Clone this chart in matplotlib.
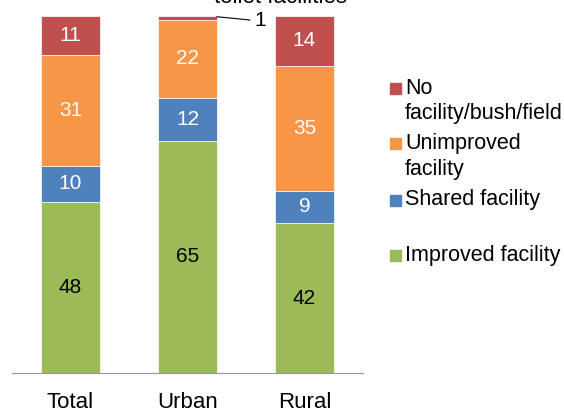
import numpy as np
import matplotlib.pyplot as plt
from matplotlib.patches import Rectangle

plt.rcParams['font.family'] = ['Liberation Sans', 'DejaVu Sans']

categories = ["Total", "Urban", "Rural"]
series = ["Improved facility", "Shared facility", "Unimproved\nfacility", "No\nfacility/bush/field"]
improved = [48, 65, 42]
shared = [10, 12, 9]
unimproved = [31, 22, 35]
no_facility = [11, 1, 14]
colors = ["#9BBB59", "#4F81BD", "#F79646", "#C0504D"]
text_colors = ["black", "white", "white", "white"]

fig = plt.figure(figsize=(5.64, 4.12), dpi=100)
ax = fig.add_axes([12/564, 39/412, 351/564, 357/412])

x = np.arange(len(categories))
bottom = np.zeros(len(categories))
for vals, col, tc in zip([improved, shared, unimproved, no_facility], colors, text_colors):
    bars = ax.bar(x, vals, 0.5, bottom=bottom, color=col, edgecolor="white", linewidth=0.5)
    for i, (b, v) in enumerate(zip(bars, vals)):
        if v >= 5:
            ax.text(b.get_x() + b.get_width()/2, bottom[i] + v/2, str(v),
                    ha="center", va="center", color=tc, fontsize=15)
        else:
            ax.annotate(str(v), xy=(b.get_x() + b.get_width(), bottom[i] + v/2 + 0.3),
                        xytext=(b.get_x() + b.get_width() + 0.32, bottom[i] + v/2 - 0.9),
                        ha="left", va="center", fontsize=15,
                        arrowprops=dict(arrowstyle="-", color="black", lw=0.8, shrinkA=1, shrinkB=0))
    bottom += vals

ax.set_xlim(-0.5, 2.5)
ax.set_ylim(0, 100)
ax.set_xticks(x)
ax.set_xticklabels(categories, fontsize=16)
ax.tick_params(axis="x", length=0, pad=14)
ax.set_yticks([])
for s in ["top", "right", "left"]:
    ax.spines[s].set_visible(False)
ax.spines["bottom"].set_color("#999999")

fig.text(281/564, 1 - 3/412, "toilet facilities", ha="center", va="baseline", fontsize=16)

# legend, top entry first
leg_y = [101, 156.5, 200, 255]
for name, col, yy in zip(series[::-1], colors[::-1], leg_y):
    sq = yy - (13 if "\n" in name else 0)
    fig.patches.append(Rectangle((390/564, 1 - (sq + 5.5)/412), 11/564, 11/412,
                                 transform=fig.transFigure, color=col))
    fig.text(405/564, 1 - yy/412, name, ha="left", va="center", fontsize=15.5, linespacing=1.3)

fig.savefig("out.png", dpi=100)
